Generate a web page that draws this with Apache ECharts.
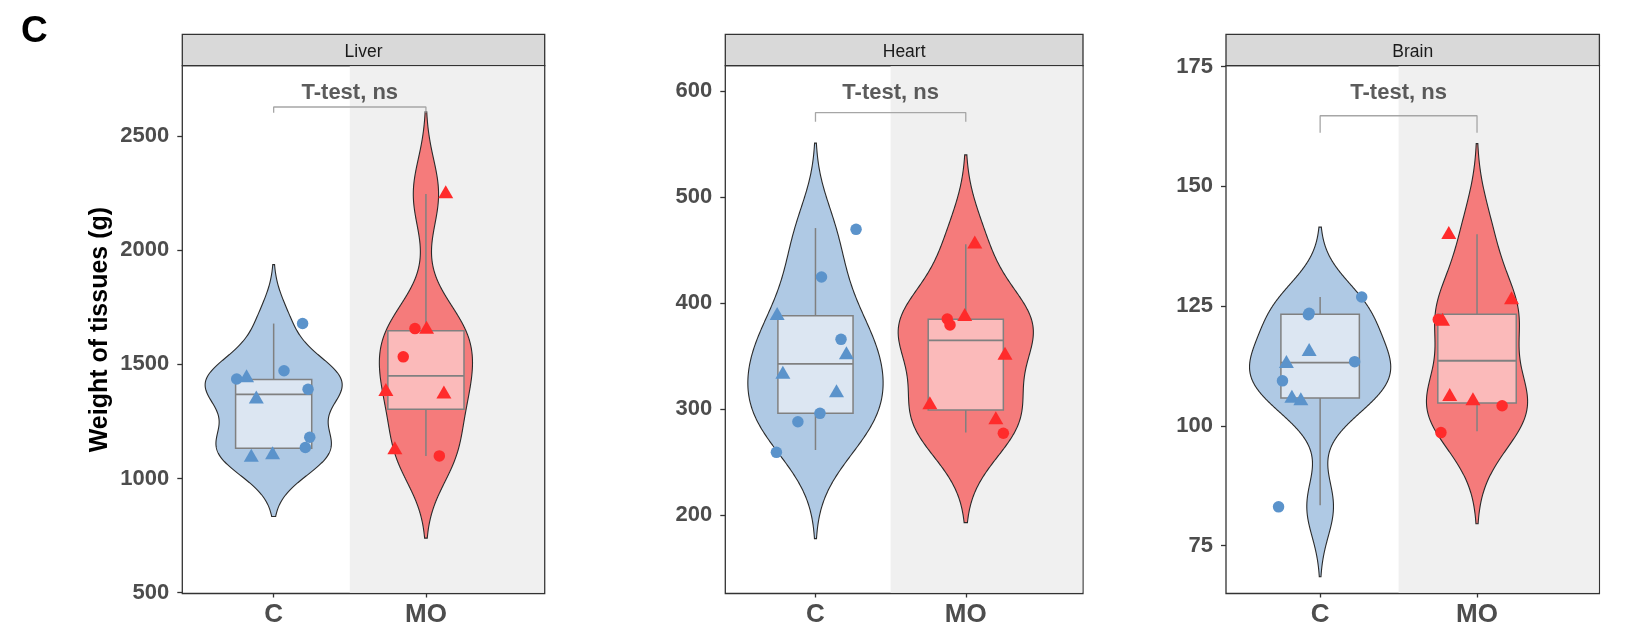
<!DOCTYPE html>
<html><head><meta charset="utf-8">
<script src="https://cdn.jsdelivr.net/npm/echarts@6/dist/echarts.min.js"></script>
<style>html,body{margin:0;padding:0;background:#fff}#c{width:1627px;height:628px}</style>
</head><body><div id="c"></div><script>
// ================= DATA =================
const panels = ['Liver', 'Heart', 'Brain'];
const groups = ['C', 'MO'];

const yTicksLiver = [500, 1000, 1500, 2000, 2500];
const yTicksHeart = [200, 300, 400, 500, 600];
const yTicksBrain = [75, 100, 125, 150, 175];
const yRangeLiver = [496, 2809];
const yRangeHeart = [126.2, 624.2];
const yRangeBrain = [65, 175.2];

// shape: 0 = circle, 1 = triangle ; jitter = horizontal offset from group centre (category units)
const liverCVal   = [1679, 1472, 1436, 1441, 1391, 1348, 1181, 1136, 1092, 1103];
const liverCShape = [0, 0, 0, 1, 0, 1, 0, 0, 1, 1];
const liverCJit   = [0.19, 0.068, -0.243, -0.178, 0.226, -0.114, 0.237, 0.208, -0.147, -0.007];
const liverMOVal   = [1657, 1653, 1533, 1380, 1369, 1125, 1099, 2247];
const liverMOShape = [0, 1, 0, 1, 1, 1, 0, 1];
const liverMOJit   = [-0.072, 0.004, -0.149, -0.263, 0.118, -0.204, 0.088, 0.13];

const heartCVal   = [469.8, 424.8, 388.3, 366, 351.2, 333, 315.4, 296.2, 288.3, 259.4];
const heartCShape = [0, 0, 1, 0, 1, 1, 1, 0, 0, 0];
const heartCJit   = [0.27, 0.04, -0.255, 0.17, 0.206, -0.217, 0.14, 0.03, -0.117, -0.26];
const heartMOVal   = [455.7, 385.2, 379.6, 387.4, 350.9, 304.1, 289.9, 277.4];
const heartMOShape = [1, 0, 0, 1, 1, 1, 1, 0];
const heartMOJit   = [0.06, -0.123, -0.105, -0.007, 0.261, -0.239, 0.2, 0.25];

const brainCVal   = [126.9, 123.5, 123.2, 115.5, 113.0, 113.4, 109.4, 105.7, 105.2, 83.1];
const brainCShape = [0, 0, 0, 1, 1, 0, 0, 1, 1, 0];
const brainCJit   = [0.265, -0.07, -0.075, -0.07, -0.215, 0.22, -0.24, -0.18, -0.123, -0.265];
const brainMOVal   = [139.9, 126.3, 122.2, 121.8, 106.1, 105.2, 104.2, 98.6];
const brainMOShape = [1, 1, 0, 1, 1, 1, 0, 0];
const brainMOJit   = [-0.18, 0.22, -0.247, -0.22, -0.174, -0.026, 0.16, -0.23];

// box stats: [lower whisker, Q1, median, Q3, upper whisker]
const liverCBox  = [1092, 1133, 1369, 1434, 1679];
const liverMOBox = [1099, 1303, 1450, 1647, 2247];
const heartCBox  = [261.6, 296.2, 342.8, 388.3, 471];
const heartMOBox = [278, 299.4, 365.1, 384.9, 455.7];
const brainCBox  = [83.4, 105.8, 113.2, 123.3, 126.9];
const brainMOBox = [98.9, 104.8, 113.6, 123.3, 140];

// significance bracket and label (one per panel)
const bracketTop = [2628, 580, 164.75];
const bracketTip = [2603, 571.3, 161.2];
const testLabelY = [2691, 598.5, 169.5];
const testLabel = 'T-test, ns';

// ================= STYLE / LAYOUT =================
const FONT = "'Liberation Sans', Arial, Helvetica, sans-serif";
const gridLeft = [182.3, 725.3, 1226];
const gridWidth = [362.4, 357.7, 373.4];
const gridTop = 65.7, gridHeight = 527.8;
const stripTop = 34.3;
const xMin = 0.4, xMax = 2.78;
const violinFill = ['#AFC9E4', '#F57B7B'];
const boxFill = ['#DCE6F2', '#FBBABA'];
const pointColor = ['#5B93CB', '#FF2B2B'];
const bwAdjust = 1.0, densCut = 2.35;

// ================= KDE (Gaussian kernel, bw.nrd0) =================
function q7(s, p) { const h = (s.length - 1) * p, lo = Math.floor(h), hi = Math.ceil(h); return s[lo] + (h - lo) * (s[hi] - s[lo]); }
function bwNrd0(x) {
  const n = x.length, m = x.reduce((a, b) => a + b, 0) / n;
  const sd = Math.sqrt(x.reduce((a, b) => a + (b - m) * (b - m), 0) / (n - 1));
  const s = [...x].sort((a, b) => a - b);
  const lo = Math.min(sd, (q7(s, 0.75) - q7(s, 0.25)) / 1.34) || sd;
  return 0.9 * lo * Math.pow(n, -0.2);
}
function kde(x) {
  const bw = bwNrd0(x) * bwAdjust;
  const mn = Math.min(...x) - densCut * bw, mx = Math.max(...x) + densCut * bw, out = [];
  for (let i = 0; i < 512; i++) {
    const y = mn + (mx - mn) * i / 511; let d = 0;
    for (const v of x) { const z = (y - v) / bw; d += Math.exp(-0.5 * z * z); }
    out.push([y, d / (x.length * bw * Math.sqrt(2 * Math.PI))]);
  }
  return out;
}

const P = [
  { ticks: yTicksLiver, range: yRangeLiver, pts: [[liverCVal, liverCShape, liverCJit], [liverMOVal, liverMOShape, liverMOJit]], box: [liverCBox, liverMOBox] },
  { ticks: yTicksHeart, range: yRangeHeart, pts: [[heartCVal, heartCShape, heartCJit], [heartMOVal, heartMOShape, heartMOJit]], box: [heartCBox, heartMOBox] },
  { ticks: yTicksBrain, range: yRangeBrain, pts: [[brainCVal, brainCShape, brainCJit], [brainMOVal, brainMOShape, brainMOJit]], box: [brainCBox, brainMOBox] }
];
P.forEach(p => {
  p.dens = p.pts.map(g => kde(g[0]));
  p.maxD = Math.max(...p.dens.map(d => Math.max(...d.map(e => e[1]))));
});

const grid = [], xAxis = [], yAxis = [], series = [], graphic = [];
P.forEach((p, i) => {
  grid.push({ left: gridLeft[i], top: gridTop, width: gridWidth[i], height: gridHeight, show: true, backgroundColor: '#fff', borderColor: '#333', borderWidth: 1.3 });
  xAxis.push({
    gridIndex: i, type: 'value', min: xMin, max: xMax,
    axisLine: { show: false }, splitLine: { show: false },
    axisTick: { show: true, customValues: [1, 2], length: 4, lineStyle: { color: '#333', width: 1.3 } },
    axisLabel: { customValues: [1, 2], formatter: v => groups[Math.round(v) - 1], margin: 8,
      fontFamily: FONT, fontSize: 26, fontWeight: 'bold', color: '#4D4D4D' }
  });
  yAxis.push({
    gridIndex: i, type: 'value', min: p.range[0], max: p.range[1],
    axisLine: { show: false }, splitLine: { show: false },
    axisTick: { show: true, customValues: p.ticks, length: 5, lineStyle: { color: '#333', width: 1.3 } },
    axisLabel: { customValues: p.ticks, formatter: v => String(v), margin: 13, fontFamily: FONT, fontSize: 22, fontWeight: 'bold', color: '#4D4D4D' }
  });
  // grey half background (MO side)
  series.push({
    type: 'custom', xAxisIndex: i, yAxisIndex: i, silent: true, z: 1,
    data: [[1.5, p.range[0]]],
    renderItem: (params, api) => {
      const a = api.coord([1.5, p.range[1]]), b = api.coord([xMax, p.range[0]]);
      return { type: 'rect', shape: { x: a[0], y: a[1] + 0.65, width: b[0] - a[0] - 0.65, height: b[1] - a[1] - 1.3 }, style: { fill: '#F0F0F0' } };
    }
  });
  // violins
  series.push({
    type: 'custom', xAxisIndex: i, yAxisIndex: i, silent: true, z: 2,
    data: p.box.map((b, g) => [g + 1, b[2], g]),
    renderItem: (params, api) => {
      const g = api.value(2), xc = g + 1, L = [], R = [];
      for (const [y, d] of p.dens[g]) {
        const w = d / p.maxD * 0.45;
        L.push(api.coord([xc - w, y])); R.push(api.coord([xc + w, y]));
      }
      return { type: 'polygon', shape: { points: L.concat(R.reverse()) }, style: { fill: violinFill[g], stroke: '#2A2A2A', lineWidth: 1.1 } };
    }
  });
  // boxes
  series.push({
    type: 'custom', xAxisIndex: i, yAxisIndex: i, silent: true, z: 3,
    data: p.box.map((b, g) => [g + 1, ...b, g]),
    renderItem: (params, api) => {
      const xc = api.value(0), g = api.value(6);
      const v = [1, 2, 3, 4, 5].map(k => api.value(k));
      const c = k => api.coord([xc, v[k]]);
      const l = api.coord([xc - 0.25, v[3]]), r = api.coord([xc + 0.25, v[1]]);
      const ms = api.coord([xc - 0.25, v[2]]), me = api.coord([xc + 0.25, v[2]]);
      const ls = { stroke: '#808080', lineWidth: 1.5 };
      return { type: 'group', children: [
        { type: 'line', shape: { x1: c(4)[0], y1: c(4)[1], x2: c(3)[0], y2: c(3)[1] }, style: ls },
        { type: 'line', shape: { x1: c(0)[0], y1: c(0)[1], x2: c(1)[0], y2: c(1)[1] }, style: ls },
        { type: 'rect', shape: { x: l[0], y: l[1], width: r[0] - l[0], height: r[1] - l[1] }, style: { fill: boxFill[g], stroke: '#808080', lineWidth: 1.5 } },
        { type: 'line', shape: { x1: ms[0], y1: ms[1], x2: me[0], y2: me[1] }, style: { stroke: '#808080', lineWidth: 1.8 } }
      ] };
    }
  });
  // points
  p.pts.forEach((gp, g) => {
    [0, 1].forEach(shape => {
      const data = [];
      gp[0].forEach((v, k) => { if (gp[1][k] === shape) data.push([g + 1 + gp[2][k], v]); });
      series.push({
        type: 'scatter', xAxisIndex: i, yAxisIndex: i, z: 4, silent: true,
        symbol: shape ? 'triangle' : 'circle',
        symbolSize: shape ? [15, 13] : 11.5,
        symbolOffset: shape ? [0, -2.2] : [0, 0],
        itemStyle: { color: pointColor[g], opacity: 1 },
        data
      });
    });
  });
  // bracket
  series.push({
    type: 'line', xAxisIndex: i, yAxisIndex: i, z: 5, silent: true, symbol: 'none',
    lineStyle: { color: '#A6A6A6', width: 1.3 },
    data: [[1, bracketTip[i]], [1, bracketTop[i]], [2, bracketTop[i]], [2, bracketTip[i]]]
  });
  // test label
  series.push({
    type: 'scatter', xAxisIndex: i, yAxisIndex: i, z: 6, silent: true,
    symbolSize: 1, itemStyle: { color: 'rgba(0,0,0,0)' },
    label: { show: true, position: 'inside', formatter: testLabel, fontFamily: FONT, fontSize: 22, fontWeight: 'bold', color: '#333' },
    data: [[1.5, testLabelY[i]]]
  });
  // facet strip
  graphic.push({ type: 'rect', silent: true, shape: { x: gridLeft[i], y: stripTop, width: gridWidth[i], height: gridTop - stripTop }, style: { fill: '#D9D9D9', stroke: '#333', lineWidth: 1.3 } });
  graphic.push({ type: 'text', silent: true, x: gridLeft[i] + gridWidth[i] / 2, y: (stripTop + gridTop) / 2 + 2, style: { text: panels[i], fill: '#1A1A1A', font: '17.5px ' + FONT, textAlign: 'center', textVerticalAlign: 'middle' } });
});
graphic.push({ type: 'text', silent: true, x: 21, y: 32, style: { text: 'C', fill: '#000', font: 'bold 37px ' + FONT, textAlign: 'left', textVerticalAlign: 'middle' } });
graphic.push({ type: 'text', silent: true, x: 100, y: gridTop + gridHeight / 2, rotation: Math.PI / 2, style: { text: 'Weight of tissues (g)', fill: '#000', font: 'bold 25px ' + FONT, textAlign: 'center', textVerticalAlign: 'middle' } });

const chart = echarts.init(document.getElementById('c'), null, { renderer: 'canvas' });
chart.setOption({ animation: false, backgroundColor: '#fff', grid, xAxis, yAxis, series, graphic });
</script></body></html>
